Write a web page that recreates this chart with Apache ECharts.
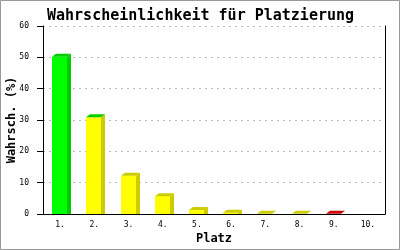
<!DOCTYPE html>
<html>
<head>
<meta charset="utf-8">
<script src="https://cdn.jsdelivr.net/npm/echarts@6/dist/echarts.min.js"></script>
<style>
html,body{margin:0;padding:0;background:#fff;}
#c{width:400px;height:250px;}
</style>
</head>
<body>
<div id="c"></div>
<script>
const categories = ['1.','2.','3.','4.','5.','6.','7.','8.','9.','10.'];
const values = [50.2, 30.9, 12.2, 5.7, 1.3, 0.4, 0.05, 0.05, 0.05, 0];
const frontColors = ['#00ff00','#ffff00','#ffff00','#ffff00','#ffff00','#ffff00','#ffff00','#ffff00','#ff0000','#ffff00'];
const sideColors = ['#00cc00','#cccc00','#cccc00','#cccc00','#cccc00','#cccc00','#cccc00','#cccc00','#cc0000','#cccc00'];
const topColors = ['#00cc00','#00cc00','#cccc00','#cccc00','#cccc00','#cccc00','#cccc00','#cccc00','#cc0000','#cccc00'];
const yTicks = [0, 10, 20, 30, 40, 50, 60];

const chart = echarts.init(document.getElementById('c'), null, {renderer: 'canvas'});
const mono = '"DejaVu Sans Mono", monospace';
const data = values.map((v, i) => [i, v]);

chart.setOption({
  animation: false,
  backgroundColor: '#fff',
  title: {
    text: 'Wahrscheinlichkeit für Platzierung',
    left: 42, top: 4,
    textStyle: {fontFamily: mono, fontWeight: 'bold', fontSize: 15, color: '#000'}
  },
  graphic: [{
    type: 'rect', shape: {x: 0.5, y: 0.5, width: 399, height: 249},
    style: {fill: 'none', stroke: '#999', lineWidth: 1}, silent: true, z: -1
  }],
  grid: {left: 43, right: 15, top: 26, bottom: 36, containLabel: false, outerBoundsMode: 'none'},
  xAxis: [{
    type: 'category', data: categories,
    name: 'Platz', nameLocation: 'middle', nameGap: 19, nameMoveOverlap: false,
    nameTextStyle: {fontFamily: mono, fontWeight: 'bold', fontSize: 12, color: '#000'},
    axisLine: {lineStyle: {color: '#000', width: 1}},
    axisTick: {show: false},
    axisLabel: {fontFamily: mono, fontSize: 8, color: '#000', margin: 7}
  }],
  yAxis: [{
    type: 'value', min: yTicks[0], max: yTicks[yTicks.length - 1], interval: 10,
    name: 'Wahrsch. (%)', nameLocation: 'middle', nameGap: 31, nameRotate: 90, nameMoveOverlap: false,
    nameTextStyle: {fontFamily: mono, fontWeight: 'bold', fontSize: 12, color: '#000', verticalAlign: 'middle'},
    axisLine: {show: true, lineStyle: {color: '#000', width: 1}},
    axisTick: {show: true, length: 6, lineStyle: {color: '#000'}},
    axisLabel: {fontFamily: mono, fontSize: 8, color: '#000', margin: 14},
    splitLine: {show: true, lineStyle: {color: '#bbbbbb', type: [2, 4], width: 1}}
  }, {
    type: 'value', min: yTicks[0], max: yTicks[yTicks.length - 1], interval: 10,
    position: 'right',
    axisLine: {show: true, lineStyle: {color: '#000', width: 1}},
    axisTick: {show: false}, axisLabel: {show: false}, splitLine: {show: false}
  }],
  series: [{
    type: 'custom',
    data: data,
    renderItem: function (params, api) {
      const idx = params.dataIndex;
      const x = api.value(0), v = api.value(1);
      const p = api.coord([x, v]);
      const p0 = api.coord([x, 0]);
      const bw = 15, dx = 4, dy = 3;
      const left = Math.round(p[0] - 8);
      const top = p[1];
      const bottom = p0[1];
      const children = [];
      if (bottom - top > 0.2) {
        children.push({
          type: 'polygon',
          shape: {points: [[left + bw, bottom], [left + bw + dx, bottom], [left + bw + dx, top - dy], [left + bw, top]]},
          style: {fill: sideColors[idx]}
        });
        children.push({
          type: 'rect',
          shape: {x: left, y: top, width: bw, height: bottom - top},
          style: {fill: frontColors[idx]}
        });
      }
      if (v > 0) {
        children.push({
          type: 'polygon',
          shape: {points: [[left, top], [left + dx, top - dy], [left + bw + dx, top - dy], [left + bw, top]]},
          style: {fill: topColors[idx]}
        });
      }
      return {type: 'group', children: children};
    },
    z: 3
  }]
});
</script>
</body>
</html>
